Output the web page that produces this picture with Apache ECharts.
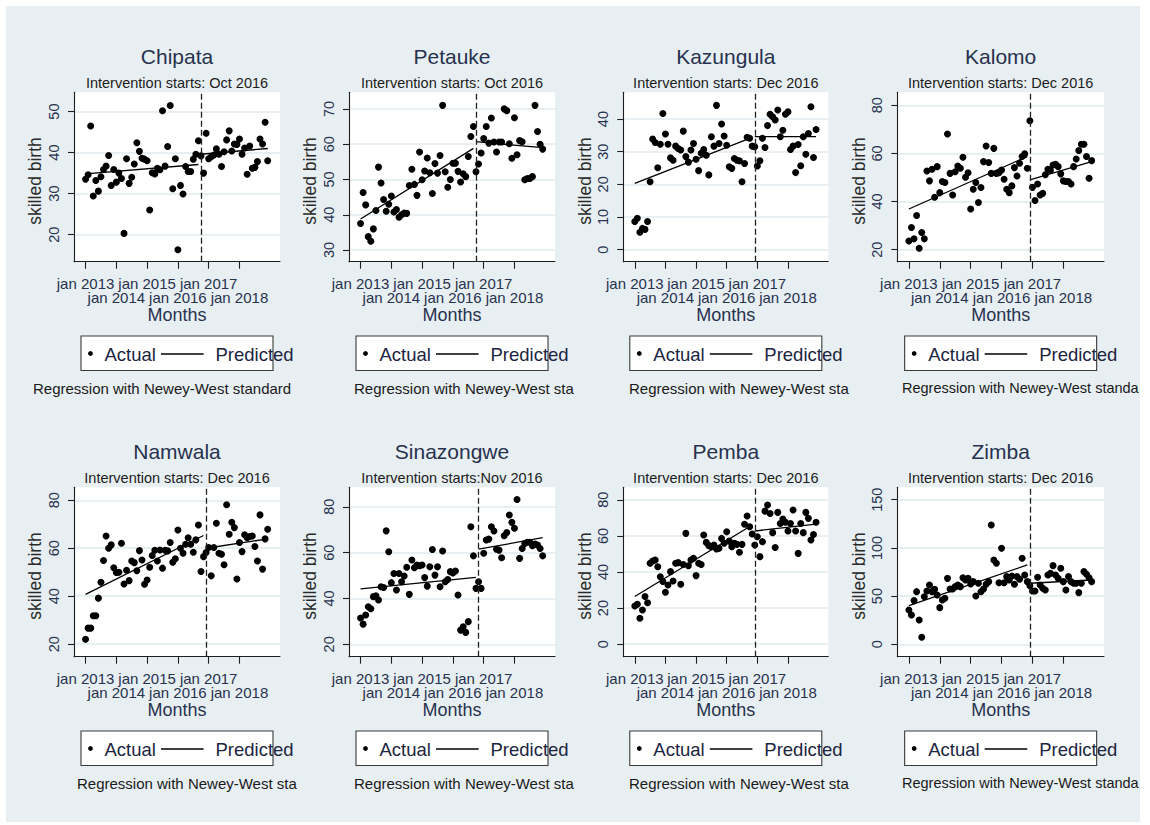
<!DOCTYPE html>
<html><head><meta charset="utf-8">
<script src="https://cdn.jsdelivr.net/npm/echarts@6/dist/echarts.min.js"></script>
<style>
html,body{margin:0;padding:0;background:#fff;}
#bg{position:absolute;left:6px;top:6px;width:1134px;height:816px;background:#E8EFF2;}
#chart{position:absolute;left:0;top:0;width:1150px;height:825px;}
</style></head><body>
<div id="bg"></div><div id="chart"></div>
<script>
// ---------- DATA ----------
const districts = ['Chipata','Petauke','Kazungula','Kalomo','Namwala','Sinazongwe','Pemba','Zimba'];
const interventionLabels = ['Intervention starts: Oct 2016','Intervention starts: Oct 2016','Intervention starts: Dec 2016','Intervention starts: Dec 2016',
  'Intervention starts: Dec 2016','Intervention starts:Nov 2016','Intervention starts: Dec 2016','Intervention starts: Dec 2016'];
// month index (0 = jan 2013) of the first post-intervention month
const interventionMonth = [45,45,47,47,47,46,47,47];
const monthTicks = [0,12,24,36,48,60];
const monthTickLabels = ['jan 2013','jan 2014','jan 2015','jan 2016','jan 2017','jan 2018'];
const yTicks = [[20,30,40,50],[30,40,50,60,70],[0,10,20,30,40],[20,40,60,80],[20,40,60,80],[20,40,60,80],[0,20,40,60,80],[0,50,100,150]];
const legendLabels = ['Actual','Predicted'];
const xTitle = 'Months';
const yTitle = 'skilled birth';
const notesTop = ['Regression with Newey-West standard','Regression with Newey-West sta','Regression with Newey-West sta','Regression with Newey-West standa'];
const notesBottom = ['Regression with Newey-West sta','Regression with Newey-West sta','Regression with Newey-West sta','Regression with Newey-West standa'];

// actual monthly values, jan 2013 .. dec 2018
const chipataActual = [33.5,34.6,46.5,29.4,33.2,30.6,34.1,35.9,36.7,39.3,32.0,35.9,32.8,35.0,33.7,20.3,38.5,32.5,34.0,37.2,
  42.4,40.3,38.6,38.4,38.0,26.0,35.1,34.8,36.2,35.8,50.2,36.7,41.5,51.5,31.2,38.5,16.3,32.0,29.9,36.6,35.4,35.4,38.4,39.6,42.9,
  39.2,35.0,44.7,38.5,39.0,39.4,40.9,39.6,36.6,40.2,43.1,45.3,40.4,42.1,42.0,43.3,39.6,41.1,34.7,41.6,36.2,36.4,37.8,43.3,42.1,47.4,38.0];
const petaukeActual = [37.5,46.3,42.8,33.8,32.5,36.0,41.2,53.5,49.0,44.3,41.0,43.0,45.3,40.8,41.5,39.3,40.0,40.5,40.4,48.3,
  52.9,48.6,45.5,57.8,49.9,52.4,56.1,51.9,46.0,54.5,51.8,56.8,71.0,52.2,47.8,50.0,54.6,54.6,52.3,49.3,51.6,50.8,56.5,62.2,65.0,
  52.2,54.4,57.5,61.6,65.0,60.3,67.4,60.6,57.8,60.6,60.6,70.0,69.5,60.1,56.0,67.5,57.0,61.0,60.7,49.9,50.3,50.3,50.8,71.0,63.6,60.0,58.6];
const kazungulaActual = [8.6,9.6,5.3,6.5,6.2,8.6,20.8,33.9,32.8,25.1,32.3,41.7,35.4,32.3,28.1,27.4,31.7,31.0,30.5,36.3,
  28.5,26.8,30.5,32.5,27.7,24.2,29.5,30.7,28.9,22.9,34.6,31.7,44.2,32.5,38.5,34.8,32.0,25.4,24.9,27.9,27.4,27.2,20.8,26.4,34.4,34.1,31.7,
  31.5,25.6,27.2,34.1,31.3,38.0,41.5,40.7,39.7,42.8,34.6,36.6,41.5,42.2,30.7,31.7,23.6,32.2,25.7,34.6,29.2,35.6,43.8,28.2,36.8];
const kalomoActual = [23.6,29.2,24.5,34.2,20.6,27.1,24.5,52.7,48.6,53.4,41.8,54.5,43.7,48.3,47.9,68.1,51.7,42.7,52.4,54.8,
  53.8,58.4,50.1,52.0,36.9,45.1,47.9,39.6,45.8,56.6,63.1,56.2,51.7,62.1,51.7,52.0,53.1,49.3,45.1,43.7,46.5,54.1,50.6,55.9,58.7,59.8,53.8,
  73.6,45.9,40.4,47.3,42.7,43.4,51.1,53.4,52.9,55.2,55.5,54.5,51.5,48.6,48.3,48.3,47.3,54.5,57.7,61.2,63.8,63.8,58.7,49.7,57.0];
const namwalaActual = [22.1,26.7,26.7,31.9,31.9,39.2,45.8,54.9,65.1,60.0,61.4,51.9,49.9,50.0,62.1,45.1,50.8,46.5,54.7,54.0,
  50.6,59.0,55.1,45.0,46.8,52.1,57.0,59.2,54.7,59.3,51.7,59.2,58.9,62.4,54.2,55.6,67.6,60.0,57.9,61.7,64.4,61.7,58.3,63.5,69.7,50.3,56.5,
  58.2,60.3,48.5,60.3,70.4,57.9,57.5,53.1,78.1,65.8,70.8,68.6,47.2,62.4,58.6,65.6,64.4,64.9,65.1,60.7,54.7,73.9,51.3,63.9,67.9];
const sinazongweActual = [31.5,28.8,32.8,36.4,35.5,40.8,41.2,39.3,45.1,44.8,69.5,60.4,46.9,50.9,43.7,50.9,47.3,49.8,53.6,41.8,
  56.8,53.4,54.6,54.3,54.6,49.1,45.4,53.8,61.4,50.2,53.8,45.1,60.7,47.3,48.3,51.7,51.1,52.0,41.5,26.2,27.7,25.2,29.9,71.3,58.6,44.4,
  47.3,44.4,59.7,65.5,65.9,71.3,69.4,61.5,61.1,57.8,67.4,68.8,76.4,73.2,70.6,83.2,57.5,61.8,64.0,64.5,64.5,63.0,63.7,63.3,61.8,58.6];
const pembaActual = [21.2,22.1,14.4,19.0,26.4,23.0,44.8,46.1,46.6,42.9,37.4,34.7,28.8,32.8,40.2,35.0,44.8,45.2,33.2,44.2,
  61.4,43.5,46.6,47.6,38.0,44.8,44.2,60.5,56.4,54.6,54.0,54.9,52.7,53.1,58.6,55.9,62.3,57.1,54.0,55.9,55.3,50.9,55.3,66.4,71.0,65.1,61.0,
  54.9,59.5,48.5,56.8,73.7,77.1,72.4,61.8,53.6,73.0,66.9,69.3,67.5,62.7,66.9,74.3,62.7,50.3,66.9,61.8,73.0,69.7,57.7,60.8,67.5];
const zimbaActual = [35.6,30.4,45.3,54.6,25.2,7.3,49.4,55.3,61.6,54.6,57.0,51.2,38.0,46.0,47.7,68.4,57.4,57.4,59.8,61.5,
  59.8,69.1,66.7,68.4,62.6,65.0,50.1,63.3,54.6,57.4,62.2,65.0,123.7,87.5,84.0,63.9,99.6,63.9,70.2,66.7,70.9,62.2,70.2,67.4,89.2,71.9,65.0,
  60.8,55.3,55.3,69.5,61.5,58.1,56.3,71.9,73.6,81.6,71.9,68.4,78.8,65.0,56.3,70.2,65.0,63.3,63.3,53.6,63.3,75.4,72.6,69.1,65.0];

// predicted (fitted) values: [first pre month, last pre month, first post month, last month]
const chipataPredicted = [34.8,37.1,39.6,41.0];
const petaukePredicted = [38.8,58.8,60.7,59.0];
const kazungulaPredicted = [20.3,34.4,34.6,34.6];
const kalomoPredicted = [36.9,58.7,49.0,56.6];
const namwalaPredicted = [40.8,65.3,60.0,63.9];
const sinazongwePredicted = [44.2,49.2,61.5,66.5];
const pembaPredicted = [26.4,66.0,62.7,66.5];
const zimbaPredicted = [40.1,82.3,63.3,66.7];

const actualSets = [chipataActual,petaukeActual,kazungulaActual,kalomoActual,namwalaActual,sinazongweActual,pembaActual,zimbaActual];
const predictedSets = [chipataPredicted,petaukePredicted,kazungulaPredicted,kalomoPredicted,namwalaPredicted,sinazongwePredicted,pembaPredicted,zimbaPredicted];

// ---------- LAYOUT ----------
const FONT = '"Liberation Sans", Arial, sans-serif';
const colLeft = [74, 349, 623.3, 897.3];
const colWidth = [206, 206, 205, 206.7];
const rowTop = [92.3, 487.3];
const plotH = 169.4;
const yRanges = [[13.4,54.7],[26.7,74.7],[-3.7,48.2],[15,85.4],[14.8,85.4],[14.6,88.5],[-6.9,86.9],[-12.9,162.9]];
const xMin = -4.5, xMax = 75.8;
const navy = '#27324f';
const axisCol = '#1e1e1e';
// staggered tick labels: even positions on the first row, odd positions on the second row
const rowOneTicks = monthTicks.filter((v, k) => k % 2 === 0);
const rowTwoTicks = monthTicks.filter((v, k) => k % 2 === 1);
const tickLabel = v => monthTickLabels[monthTicks.indexOf(Number(v))];

const grids = [], xAxes = [], yAxes = [], series = [], titles = [], graphics = [];
const xLabelStyle = {fontSize: 15, color: navy, fontFamily: FONT, showMinLabel: true, showMaxLabel: true, hideOverlap: false, formatter: tickLabel};
for (let i = 0; i < 8; i++) {
  const c = i % 4, r = Math.floor(i / 4);
  const left = colLeft[c], top = rowTop[r], w = colWidth[c];
  const cx = left + w / 2;
  grids.push({left: left, top: top, width: w, height: plotH, show: true, backgroundColor: '#ffffff', borderWidth: 0});
  xAxes[i] = {
    gridIndex: i, type: 'value', position: 'bottom', min: xMin, max: xMax,
    axisLine: {show: true, onZero: false, lineStyle: {color: axisCol, width: 1.1}},
    axisTick: {show: true, length: 7, customValues: monthTicks, lineStyle: {color: axisCol, width: 1.1}},
    axisLabel: Object.assign({customValues: rowOneTicks, margin: 14}, xLabelStyle),
    splitLine: {show: false},
    name: xTitle, nameLocation: 'middle', nameGap: 44.5,
    nameTextStyle: {fontSize: 18, lineHeight: 18, color: navy, fontFamily: FONT}
  };
  xAxes[8 + i] = {
    gridIndex: i, type: 'value', position: 'bottom', min: xMin, max: xMax,
    axisLine: {show: false, onZero: false}, axisTick: {show: false},
    axisLabel: Object.assign({customValues: rowTwoTicks, margin: 28.6}, xLabelStyle),
    splitLine: {show: false}
  };
  yAxes.push({
    gridIndex: i, type: 'value', min: yRanges[i][0], max: yRanges[i][1],
    axisLine: {show: true, onZero: false, lineStyle: {color: axisCol, width: 1.1}},
    axisTick: {show: true, length: 6, customValues: yTicks[i], lineStyle: {color: axisCol, width: 1.1}},
    axisLabel: {customValues: yTicks[i], showMinLabel: true, showMaxLabel: true, rotate: 90, margin: 13, fontSize: 14.5, color: navy, fontFamily: FONT},
    splitLine: {show: true, lineStyle: {color: '#E8EFF2', width: 1.8}},
    name: yTitle, nameLocation: 'middle', nameGap: 30,
    nameTextStyle: {fontSize: 17.5, lineHeight: 17.5, color: '#2a2a2a', fontFamily: FONT, padding: [0, 8, 0, 0]}
  });
  const m = interventionMonth[i];
  const p = predictedSets[i];
  series.push({
    type: 'scatter', name: legendLabels[0], xAxisIndex: i, yAxisIndex: i,
    data: actualSets[i].map((v, t) => [t, v]),
    symbol: 'circle', symbolSize: 7, itemStyle: {color: '#000', opacity: 1},
    markLine: {silent: true, symbol: ['none', 'none'], label: {show: false},
      lineStyle: {color: '#222', type: [6, 3], width: 1.3}, data: [{xAxis: m}]}
  });
  series.push({type: 'line', name: legendLabels[1], xAxisIndex: i, yAxisIndex: i,
    data: [[0, p[0]], [m - 1, p[1]]], showSymbol: false, lineStyle: {color: '#000', width: 1.3}});
  series.push({type: 'line', name: legendLabels[1], xAxisIndex: i, yAxisIndex: i,
    data: [[m, p[2]], [actualSets[i].length - 1, p[3]]], showSymbol: false, lineStyle: {color: '#000', width: 1.3}});
  titles.push({
    text: districts[i], subtext: interventionLabels[i], left: cx, top: top - 46.3, textAlign: 'center', padding: 0, itemGap: 8,
    textStyle: {fontSize: 21, lineHeight: 21, fontWeight: 'normal', color: navy, fontFamily: FONT},
    subtextStyle: {fontSize: 14.5, lineHeight: 15, color: '#1c1c1c', fontFamily: FONT}
  });
  // legend box
  const bx = cx - 96, by = top + 243.7;
  graphics.push({type: 'rect', shape: {x: bx, y: by, width: 192, height: 34.5}, style: {fill: '#fff', stroke: '#3a3a3a', lineWidth: 1.1}, silent: true});
  graphics.push({type: 'circle', shape: {cx: bx + 9.5, cy: by + 17.5, r: 2.4}, style: {fill: '#000'}, silent: true});
  graphics.push({type: 'text', x: bx + 23.5, y: by + 18.5, style: {text: legendLabels[0], fontSize: 18.5, fontFamily: FONT, fill: '#1c2541', verticalAlign: 'middle', align: 'left'}, silent: true});
  graphics.push({type: 'line', shape: {x1: bx + 80, y1: by + 18, x2: bx + 122.6, y2: by + 18}, style: {stroke: '#000', lineWidth: 1.3}, silent: true});
  graphics.push({type: 'text', x: bx + 134.5, y: by + 18.5, style: {text: legendLabels[1], fontSize: 18.5, fontFamily: FONT, fill: '#1c2541', verticalAlign: 'middle', align: 'left'}, silent: true});
  // note
  const noteX = r === 0 ? [33, 354, 629, 902][c] : [77, 354, 629, 902][c];
  const noteSize = c === 3 ? 14.5 : 15;
  graphics.push({type: 'text', x: noteX, y: top + 295.7, style: {text: (r === 0 ? notesTop : notesBottom)[c], fontSize: noteSize, fontFamily: FONT, fill: '#1a1a1a', verticalAlign: 'middle', align: 'left'}, silent: true});
}

const chart = echarts.init(document.getElementById('chart'), null, {renderer: 'svg', width: 1150, height: 825});
chart.setOption({
  backgroundColor: 'transparent',
  animation: false,
  title: titles,
  grid: grids,
  xAxis: xAxes,
  yAxis: yAxes,
  series: series,
  graphic: graphics
});
</script>
</body></html>
